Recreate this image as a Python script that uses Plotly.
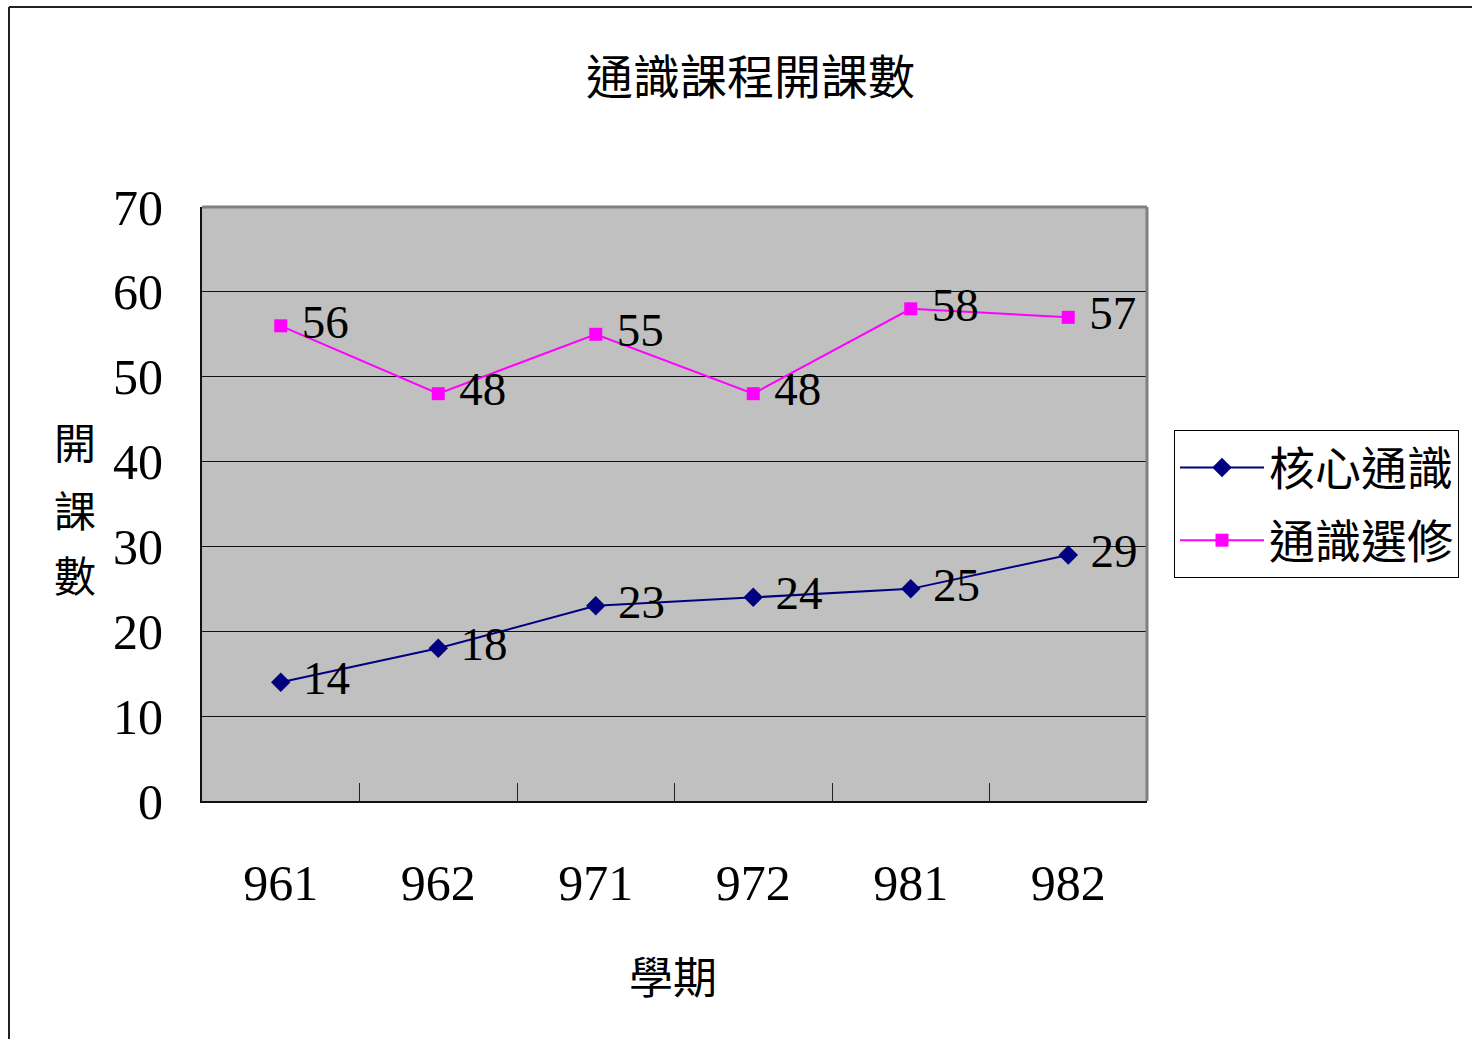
import plotly.graph_objects as go

# ---- data ----
semesters = ["961", "962", "971", "972", "981", "982"]
core_name = "核心通識"
core_values = [14, 18, 23, 24, 25, 29]
elective_name = "通識選修"
elective_values = [56, 48, 55, 48, 58, 57]
y_ticks = [0, 10, 20, 30, 40, 50, 60, 70]

W, H = 1472, 1039


def px(x):
    return x / W


def py(y):
    return 1 - y / H


NUM_FONT = "Liberation Serif"
CJK_FONT = "Noto Sans CJK TC"

fig = go.Figure()

fig.add_trace(go.Scatter(
    x=semesters, y=core_values, name=core_name, mode="lines+markers+text",
    line=dict(color="#000080", width=2),
    marker=dict(symbol="diamond", size=15, color="#000080"),
    text=[" " + str(v) for v in core_values], textposition="middle right",
    textfont=dict(family=NUM_FONT, size=47, color="black"),
    legendgroup="a",
))
fig.add_trace(go.Scatter(
    x=semesters, y=elective_values, name=elective_name, mode="lines+markers+text",
    line=dict(color="#FF00FF", width=2),
    marker=dict(symbol="square", size=13, color="#FF00FF"),
    text=[" " + str(v) for v in elective_values], textposition="middle right",
    textfont=dict(family=NUM_FONT, size=47, color="black"),
    legendgroup="b",
))

shapes = [
    # outer frame (left + top)
    dict(type="line", xref="paper", yref="paper", x0=px(9), y0=py(1039), x1=px(9), y1=py(7),
         line=dict(color="#222222", width=2)),
    dict(type="line", xref="paper", yref="paper", x0=px(9), y0=py(7), x1=px(1472), y1=py(7),
         line=dict(color="#222222", width=2)),
    # plot area gray top/right border
    dict(type="line", xref="paper", yref="paper", x0=px(202), y0=py(207), x1=px(1147), y1=py(207),
         line=dict(color="#808080", width=3)),
    dict(type="line", xref="paper", yref="paper", x0=px(1147), y0=py(207), x1=px(1147), y1=py(801),
         line=dict(color="#808080", width=3)),
]


def ann(text, x, y, size):
    return dict(text=text, x=px(x), y=py(y), xref="paper", yref="paper", showarrow=False,
                xanchor="center", yanchor="middle",
                font=dict(family=CJK_FONT, size=size, color="black"))


annotations = [
    ann("開", 75, 440, 42),
    ann("課", 75, 508, 42),
    ann("數", 75, 573, 42),
    ann("學期", 673, 975, 44),
    ann("通識課程開課數", 750, 74, 47),
]

fig.update_layout(
    width=W, height=H,
    margin=dict(l=0, r=0, t=0, b=0, pad=0, autoexpand=False),
    paper_bgcolor="white",
    plot_bgcolor="#C0C0C0",
    showlegend=True,
    legend=dict(
        x=px(1174), y=py(430), xanchor="left", yanchor="top",
        bgcolor="white", bordercolor="black", borderwidth=1,
        font=dict(family=CJK_FONT, size=46, color="black"),
        tracegroupgap=10, itemwidth=84,
    ),
    xaxis=dict(
        domain=[px(202), px(1147)], automargin=False,
        type="category", range=[-0.5, 5.5],
        showline=True, linecolor="#111111", linewidth=2,
        ticks="inside", tickson="boundaries", ticklen=18, tickcolor="#222222", tickwidth=1,
        showgrid=False, zeroline=False,
        tickfont=dict(family=NUM_FONT, size=50, color="black"),
        ticklabelstandoff=37,
    ),
    yaxis=dict(
        domain=[py(801), py(207)], automargin=False,
        range=[0, 70], tickvals=y_ticks,
        showline=True, linecolor="#111111", linewidth=2,
        showgrid=True, gridcolor="#111111", gridwidth=1,
        zeroline=False, ticks="",
        tickfont=dict(family=NUM_FONT, size=50, color="black"),
        ticklabelstandoff=27,
    ),
    shapes=shapes,
    annotations=annotations,
)

fig.write_html("out.html", config={"displayModeBar": False},
               post_script="document.body.style.margin='0';document.body.style.overflow='hidden';")
